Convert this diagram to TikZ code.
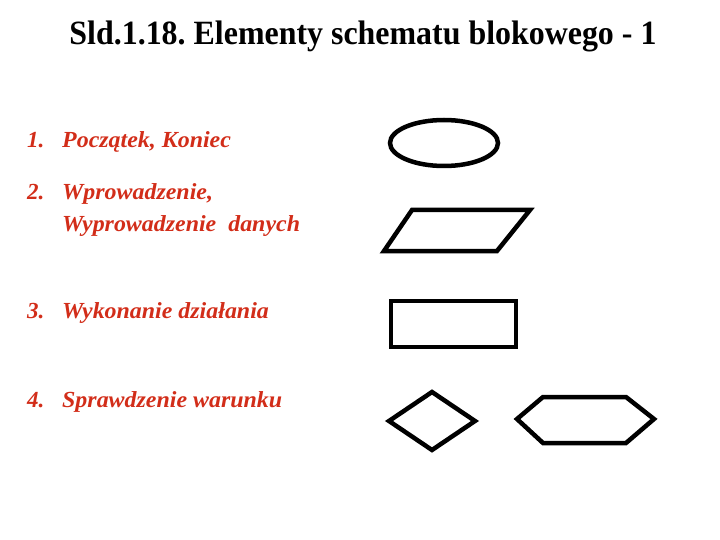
\documentclass[tikz,border=0pt]{standalone}
\usepackage{fontspec}
\setmainfont{Liberation Serif}
\usetikzlibrary{shapes.geometric}
\definecolor{itemred}{RGB}{210,45,25}
\frenchspacing
\newcommand{\itemstretch}[1]{\scalebox{1.04}[1]{#1}}
\tikzset{
  shapeline/.style={draw=black, line width=4.5pt, line join=miter},
  itemnum/.style={anchor=base west, inner sep=0pt, text=itemred, font=\fontsize{23}{26}\selectfont\bfseries\itshape},
  itemtext/.style={anchor=base west, inner sep=0pt, text=itemred, font=\fontsize{23}{26}\selectfont\bfseries\itshape, align=left},
}
\begin{document}
\begin{tikzpicture}[x=1pt,y=-1pt]
\useasboundingbox (0,0) rectangle (720,540);
% title
\node[anchor=base, inner sep=0pt, font=\fontsize{34}{38}\selectfont\bfseries] (title) at (363,45)
  {\resizebox{587pt}{\height}{\frenchspacing Sld.1.18. Elementy schematu blokowego - 1}};
% items
\node[itemnum] (n1) at (27,148) {1.};
\node[itemtext] (t1) at (62,148) {\itemstretch{Początek, Koniec}};
\node[itemnum] (n2) at (27,200) {2.};
\node[itemtext] (t2a) at (62,200) {\itemstretch{Wprowadzenie,}};
\node[itemtext] (t2b) at (62,232) {\itemstretch{Wyprowadzenie\ \ danych}};
\node[itemnum] (n3) at (27,318) {3.};
\node[itemtext] (t3) at (62,318) {\itemstretch{Wykonanie działania}};
\node[itemnum] (n4) at (27,407) {4.};
\node[itemtext] (t4) at (62,407) {\itemstretch{Sprawdzenie warunku}};
% shapes
\draw[shapeline] (444,143) ellipse [x radius=54, y radius=23];
\draw[shapeline] (412,210) -- (530,210) -- (497,251) -- (384,251) -- cycle;
\draw[shapeline] (391,301) rectangle (516,347);
\draw[shapeline] (389,421) -- (432,392) -- (475,421) -- (432,450) -- cycle;
\draw[shapeline] (517,419) -- (543,397) -- (626,397) -- (654,419) -- (626,443) -- (543,443) -- cycle;
\end{tikzpicture}
\end{document}
